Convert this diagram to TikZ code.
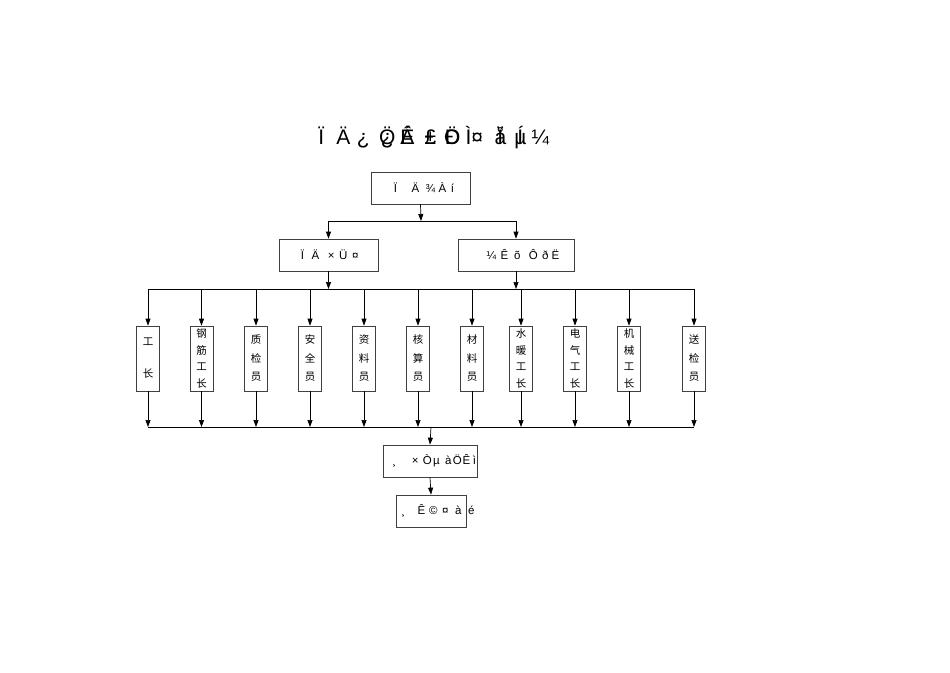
\documentclass[tikz,border=0pt]{standalone}
\usepackage{fontspec}
\setmainfont{Liberation Sans}
\newfontfamily\cjk{Noto Sans CJK SC}
\usetikzlibrary{arrows.meta}
\newcommand\gl[2]{\makebox[0pt][l]{\hspace*{#1pt}\makebox[0pt][c]{#2}}}
\newcommand\ovl[2]{{\ooalign{\hfil#1\hfil\cr\hfil#2\hfil}}}
\begin{document}
\begin{tikzpicture}[x=1pt,y=-1pt,
  line width=0.7pt,
  arr/.style={-{Triangle[length=7pt,width=5pt]}},
  txt/.style={inner sep=0pt,anchor=west,font=\fontsize{11.5}{13}\selectfont},
  hbox/.style={draw=black!75,inner sep=0pt,minimum height=32pt},
  vbox/.style={draw=black!75,inner sep=0pt,minimum width=23pt,minimum height=65pt,align=center},
  two/.style={font=\cjk\fontsize{10.5}{32}\selectfont},
  three/.style={font=\cjk\fontsize{10.5}{18.5}\selectfont},
  four/.style={font=\cjk\fontsize{10.5}{16.7}\selectfont}]
\useasboundingbox[fill=white] (0,0) rectangle (950,672);
% title
\node[txt,font=\fontsize{21}{24}\selectfont] (title) at (310,137) {\makebox[240pt][l]{\gl{11}{Ï}\gl{33}{Ä}\gl{53}{¿}\gl{77}{\ovl{Ö}{¿}}\gl{97}{\ovl{Ê}{Á}}\gl{120}{\ovl{±}{£}}\gl{142}{\ovl{Ö}{Ð}}\gl{164}{Ì¤}\gl{190}{\ovl{å}{Ï}}\gl{210}{\ovl{µ}{Í}}\gl{230}{¼}}};
% level boxes
\node[hbox,minimum width=99pt] (top) at (420.5,188) {};
\node[txt] (toptxt) at (380,188) {\makebox[80pt][l]{\gl{15}{Ï}\gl{35}{Ä}\gl{50}{¾}\gl{62}{À}\gl{72}{í}}};
\node[hbox,minimum width=99pt] (left) at (328.5,255) {};
\node[txt] (lefttxt) at (290,255) {\makebox[75pt][l]{\gl{12}{Ï}\gl{25}{Ä}\gl{41}{×}\gl{53}{Ü}\gl{65}{¤}}};
\node[hbox,minimum width=116pt] (right) at (516,255) {};
\node[txt] (righttxt) at (480,255) {\makebox[85pt][l]{\gl{11}{¼}\gl{24}{Ê}\gl{37}{õ}\gl{53}{Ô}\gl{65}{ð}\gl{75}{Ë}}};
% eleven boxes
\node[vbox,two]   (v1)  at (148,358.5)   {工\\长};
\node[vbox,four]  (v2)  at (201.5,358.5) {钢\\筋\\工\\长};
\node[vbox,three] (v3)  at (256,358.5)   {质\\检\\员};
\node[vbox,three] (v4)  at (310,358.5)   {安\\全\\员};
\node[vbox,three] (v5)  at (364,358.5)   {资\\料\\员};
\node[vbox,three] (v6)  at (418,358.5)   {核\\算\\员};
\node[vbox,three] (v7)  at (472,358.5)   {材\\料\\员};
\node[vbox,four]  (v8)  at (521,358.5)   {水\\暖\\工\\长};
\node[vbox,four]  (v9)  at (575,358.5)   {电\\气\\工\\长};
\node[vbox,four]  (v10) at (629,358.5)   {机\\械\\工\\长};
\node[vbox,three] (v11) at (694,358.5)   {送\\检\\员};
% bottom boxes
\node[hbox,minimum width=94pt] (b1) at (430,461) {};
\node[txt] (b1txt) at (385,461) {\makebox[95pt][l]{\gl{9}{¸}\gl{30}{×}\gl{42}{Ò}\gl{51}{µ}\gl{63}{à}\gl{72}{Ö}\gl{81}{Ê}\gl{89}{ì}}};
\node[hbox,minimum width=70pt] (b2) at (431,511) {};
\node[txt] (b2txt) at (395,511) {\makebox[80pt][l]{\gl{8}{¸}\gl{26}{Ê}\gl{38}{©}\gl{50}{¤}\gl{63}{à}\gl{76}{é}}};
% junction coordinates
\coordinate (j0) at (421,221);
\coordinate (jl) at (328.5,221);
\coordinate (jr) at (516,221);
\coordinate (k1) at (328.5,289);
\coordinate (k2) at (516,289);
\coordinate (ka) at (148,289);
\coordinate (kb) at (694,289);
\coordinate (ma) at (148,427);
\coordinate (mb) at (694,427);
\coordinate (m0) at (431,427);
% connectors
\draw[arr] (top.south) -- (j0);
\draw (jl) -- (jr);
\draw[arr] (jl) -- (left.north);
\draw[arr] (jr) -- (right.north);
\draw[arr] (left.south) -- (k1);
\draw[arr] (right.south) -- (k2);
\draw (ka) -- (kb);
\draw (ma) -- (mb);
\foreach \i in {1,...,11}{
  \draw[arr] (ka -| v\i.north) -- (v\i.north);
  \draw[arr] (v\i.south) -- (ma -| v\i.south);
}
\draw[arr] (m0) -- (b1.north);
\draw[arr] (b1.south) -- (b2.north);
\end{tikzpicture}
\end{document}
